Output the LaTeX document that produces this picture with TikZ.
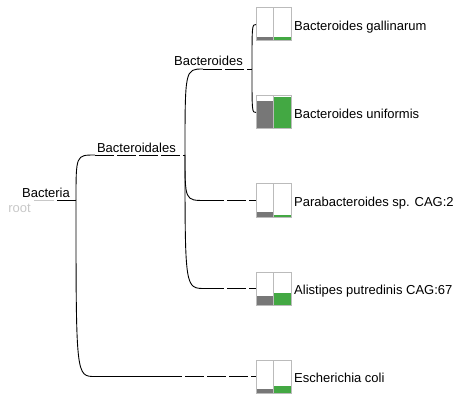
\documentclass[tikz,border=0pt]{standalone}
\usepackage{fontspec}
\setmainfont{Liberation Sans}
\usetikzlibrary{positioning}
\definecolor{bargray}{HTML}{777777}
\definecolor{bargreen}{HTML}{43A843}
\definecolor{boxgray}{HTML}{BBBBBB}
\definecolor{rootgray}{HTML}{C8C8C8}

\begin{document}
\begin{tikzpicture}[x=1pt, y=-1pt,
        every node/.style ={font=\fontsize{13}{15}\selectfont, inner sep=0pt},
        branch/.style     ={draw, line width=0.9pt},
        ext/.style        ={draw, line width=0.9pt, dash pattern=on 19pt off 3pt},
        boxline/.style    ={draw=boxgray, line width=1pt},
        innerlabel/.style ={anchor=base east},
        leaflabel/.style  ={anchor=base west},
    ]
\useasboundingbox (0,0) rectangle (456,396);

% Inner nodes
\coordinate (root)          at (34,200);
\coordinate (bacteria)      at (76,200);
\coordinate (bacteroidales) at (185,155);
\coordinate (bacteroides)   at (252,69);

\node (rootlbl) [innerlabel, text=rootgray] at (31,212) {root};
\node (bacterialbl) [innerlabel] at (70,197.5) {Bacteria};
\node (bacteroidaleslbl) [innerlabel] at (176,153) {Bacteroidales};
\node (bacteroideslbl) [innerlabel] at (243,66) {Bacteroides};

% Leaves
\foreach \nm/\y/\g/\gr/\txt in {gal/8/0.12/0.14/Bacteroides gallinarum,
        uni/96/0.88/1/Bacteroides uniformis,
        par/184/0.15/0.07/Parabacteroides sp. CAG:2,
        ali/272/0.29/0.37/Alistipes putredinis CAG:67,
        esc/360/0.12/0.22/Escherichia coli}{
    \fill[bargray]  (256,{\y+33-32*\g})  rectangle (273,\y+33);
    \fill[bargreen] (273,{\y+33-32*\gr}) rectangle (291,\y+33);
    \draw[boxline] (256,\y) rectangle (273,\y+33);
    \draw[boxline] (273,\y) rectangle (291,\y+33);
    \coordinate (\nm-in) at (256,\y+16.5);
    \node (\nm) [leaflabel] at (294,\y+22.5) {\txt};
}

% Bend points
\coordinate (bacteroidales-b) at (95,155);
\coordinate (esc-b)           at (95,376.5);
\coordinate (bacteroides-b)   at (203,69);
\coordinate (par-b)           at (205,200.5);
\coordinate (ali-b)           at (205,288.5);

% Edges
\draw[rootgray, line width=0.9pt] (root) -- (54,200);
\draw[branch] (57,200) -- (bacteria);

\draw[branch] (bacteria) .. controls (bacteria |- bacteroidales-b) .. (bacteroidales-b);
\draw[ext] (bacteroidales-b) -- (bacteroidales);
\draw[branch] (bacteria) .. controls (bacteria |- esc-b) .. (esc-b);
\draw[branch] (esc-b) -- (163,376.5);
\draw[ext] (163,376.5) -- (esc-in);

\draw[branch] (bacteroidales) .. controls (bacteroidales |- bacteroides-b) .. (bacteroides-b);
\draw[ext] (bacteroides-b) -- (bacteroides);
\draw[branch] (bacteroidales) .. controls (bacteroidales |- par-b) .. (par-b);
\draw[ext] (par-b) -- (par-in);
\draw[branch] (bacteroidales) .. controls (bacteroidales |- ali-b) .. (ali-b);
\draw[ext] (ali-b) -- (ali-in);

\draw[branch] (bacteroides) .. controls (bacteroides |- gal-in) .. (gal-in);
\draw[branch] (bacteroides) .. controls (bacteroides |- uni-in) .. (uni-in);

\end{tikzpicture}
\end{document}
